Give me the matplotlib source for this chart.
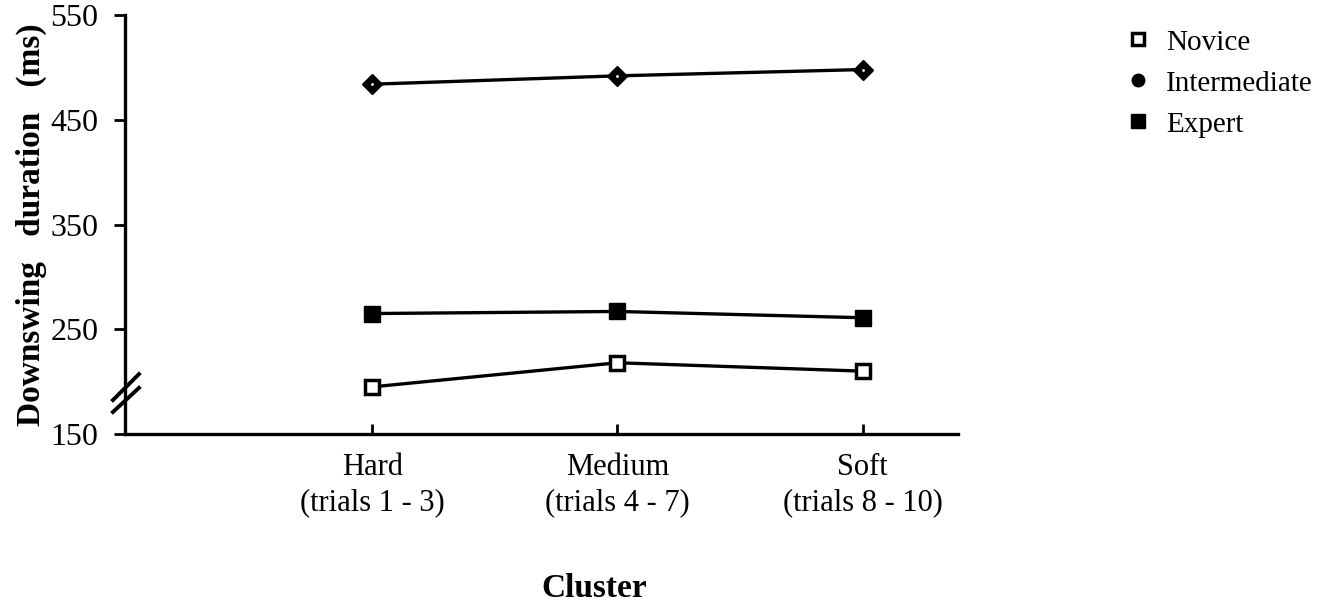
import numpy as np
import matplotlib.pyplot as plt
from matplotlib.lines import Line2D

# Data (ms)
clusters = ["Hard\n(trials 1 - 3)", "Medium\n(trials 4 - 7)", "Soft\n(trials 8 - 10)"]
novice = [195, 218, 210]
intermediate = [484, 492, 498]
expert = [265, 267, 261]
y_ticks = [150, 250, 350, 450, 550]

plt.rcParams['font.family'] = ['Liberation Serif', 'DejaVu Serif']

fig = plt.figure(figsize=(13.32, 6.04), dpi=100)
ax = fig.add_axes([0.0938, 0.2815, 0.6255, 0.6935])

x = np.arange(len(clusters))
lw = 2.4

ax.plot(x, intermediate, '-', color='black', linewidth=lw, marker='D',
        markersize=10, markerfacecolor='black', markeredgecolor='black')
ax.plot(x, intermediate, linestyle='none', marker='o', markersize=1.0,
        color='white', zorder=5)
ax.plot(x, expert, '-', color='black', linewidth=lw, marker='s',
        markersize=11, markerfacecolor='black', markeredgecolor='black')
ax.plot(x, novice, '-', color='black', linewidth=lw, marker='s',
        markersize=10, markerfacecolor='white', markeredgecolor='black',
        markeredgewidth=2.5, zorder=4)

ax.set_xlim(-1.01, 2.39)
ax.set_ylim(150, 550)
ax.set_yticks(y_ticks)
ax.set_xticks(x)
ax.set_xticklabels(clusters, fontsize=22, linespacing=1.25)
ax.tick_params(axis='y', labelsize=23, length=8, width=2, direction='out', pad=11)
ax.tick_params(axis='x', length=7, width=2, direction='in', pad=14)

for s in ['top', 'right']:
    ax.spines[s].set_visible(False)
for s in ['left', 'bottom']:
    ax.spines[s].set_linewidth(2.4)

# axis break marks
for y0, y1 in [(0.081, 0.143), (0.0525, 0.11)]:
    ax.plot([-0.0144, 0.0168], [y0, y1], transform=ax.transAxes,
            color='black', linewidth=2.8, clip_on=False)

ax.set_ylabel("Downswing   duration   (ms)", fontsize=24, fontweight='bold')
ax.yaxis.set_label_coords(-0.093, 0.5)
fig.text(0.446, 0.012, "Cluster", fontsize=24, fontweight='bold', ha='center')

handles = [
    Line2D([], [], linestyle='none', marker='s', markersize=9,
           markerfacecolor='white', markeredgecolor='black', markeredgewidth=2.5),
    Line2D([], [], linestyle='none', marker='o', markersize=9,
           markerfacecolor='black', markeredgecolor='black'),
    Line2D([], [], linestyle='none', marker='s', markersize=10,
           markerfacecolor='black', markeredgecolor='black'),
]
fig.legend(handles, ["Novice", "Intermediate", "Expert"],
           loc='upper left', bbox_to_anchor=(0.824, 0.995), frameon=False,
           fontsize=21, handlelength=1.0, handletextpad=0.45, labelspacing=0.5)

fig.savefig("out.png", dpi=100)
